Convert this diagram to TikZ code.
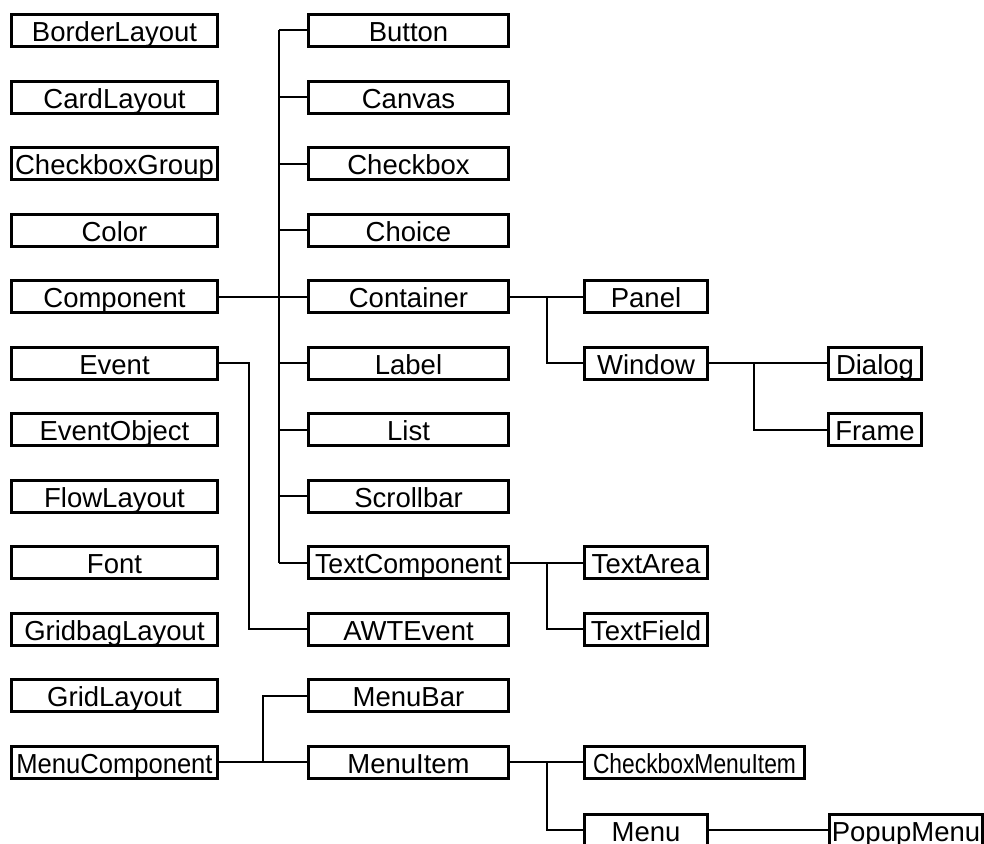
\documentclass[tikz,border=0pt]{standalone}
\usepackage{fontspec}
\setmainfont{Liberation Sans}
\usetikzlibrary{positioning,calc}
\newcommand{\squeezed}[2]{\scalebox{#1}[1]{#2}}

\begin{document}
\begin{tikzpicture}[
        x=1pt,y=-1pt,node distance=66.5pt,
        every node/.style={font=\fontsize{27.5}{27.5}\selectfont}
    ]

    \tikzstyle{block} = [rectangle,draw,line width=3pt,minimum height=32pt,inner sep=0pt,
        text height=23.5pt,text depth=1pt]
    \tikzstyle{leftbox} = [block,minimum width=206pt]
    \tikzstyle{midbox} = [block,minimum width=200pt]
    \tikzstyle{subbox} = [block,minimum width=123pt]
    \tikzstyle{link} = [line width=2pt]

    \useasboundingbox (0,0) rectangle (984,843);

    % left column
    \node[leftbox] (borderlayout) at (114.5,30.5) {BorderLayout};
    \node[leftbox] (cardlayout) [below of=borderlayout] {CardLayout};
    \node[leftbox] (checkboxgroup) [below of=cardlayout] {CheckboxGroup};
    \node[leftbox] (color) [below of=checkboxgroup] {Color};
    \node[leftbox] (component) [below of=color] {Component};
    \node[leftbox] (event) [below of=component] {Event};
    \node[leftbox] (eventobject) [below of=event] {EventObject};
    \node[leftbox] (flowlayout) [below of=eventobject] {FlowLayout};
    \node[leftbox] (font) [below of=flowlayout] {Font};
    \node[leftbox] (gridbaglayout) [below of=font] {GridbagLayout};
    \node[leftbox] (gridlayout) [below of=gridbaglayout] {GridLayout};
    \node[leftbox] (menucomponent) [below of=gridlayout] {\squeezed{0.93}{MenuComponent}};

    % middle column
    \node[midbox] (button) at (408.5,30.5) {Button};
    \node[midbox] (canvas) [below of=button] {Canvas};
    \node[midbox] (checkbox) [below of=canvas] {Checkbox};
    \node[midbox] (choice) [below of=checkbox] {Choice};
    \node[midbox] (container) [below of=choice] {Container};
    \node[midbox] (label) [below of=container] {Label};
    \node[midbox] (list) [below of=label] {List};
    \node[midbox] (scrollbar) [below of=list] {Scrollbar};
    \node[midbox] (textcomponent) [below of=scrollbar] {\squeezed{0.97}{TextComponent}};
    \node[midbox] (awtevent) [below of=textcomponent] {AWTEvent};
    \node[midbox] (menubar) [below of=awtevent] {MenuBar};
    \node[midbox] (menuitem) [below of=menubar] {MenuItem};

    % right columns
    \node[subbox] (panel) at (646,296.5) {Panel};
    \node[subbox] (window) [below of=panel] {Window};
    \node[block,minimum width=93pt] (dialog) at (875,363) {Dialog};
    \node[block,minimum width=93pt] (frame) [below of=dialog] {Frame};
    \node[subbox] (textarea) at (646,562.5) {TextArea};
    \node[subbox] (textfield) [below of=textarea] {TextField};
    \node[block,minimum width=220pt] (checkboxmenuitem) at (694.5,762) {\squeezed{0.83}{CheckboxMenuItem}};
    \node[subbox] (menu) at (646,830) {Menu};
    \node[block,minimum width=153pt] (popupmenu) at (906,830) {PopupMenu};

    % Component tree
    \coordinate (bus) at (279,0);
    \draw[link] (bus |- button.west) -- (bus |- textcomponent.west);
    \foreach \n in {button,canvas,checkbox,choice,container,label,list,scrollbar,textcomponent}
        \draw[link] (bus |- \n.west) -- (\n.west);
    \draw[link] (component.east) -- (container.west);

    \draw[link] (container.east) -- (panel.west);
    \draw[link] ($(container.east)!0.5!(panel.west)$) |- (window.west);
    \draw[link] (window.east) -- (dialog.west);
    \draw[link] ([xshift=45pt]window.east) |- (frame.west);
    \draw[link] (textcomponent.east) -- (textarea.west);
    \draw[link] ($(textcomponent.east)!0.5!(textarea.west)$) |- (textfield.west);

    % Event
    \draw[link] (event.east) -- ++(30,0) |- (awtevent.west);

    % MenuComponent tree
    \draw[link] (menucomponent.east) -- (menuitem.west);
    \draw[link] ($(menucomponent.east)!0.5!(menuitem.west)$) |- (menubar.west);
    \draw[link] (menuitem.east) -- (checkboxmenuitem.west);
    \draw[link] ($(menuitem.east)!0.5!(checkboxmenuitem.west)$) |- (menu.west);
    \draw[link] (menu.east) -- (popupmenu.west);

\end{tikzpicture}
\end{document}
